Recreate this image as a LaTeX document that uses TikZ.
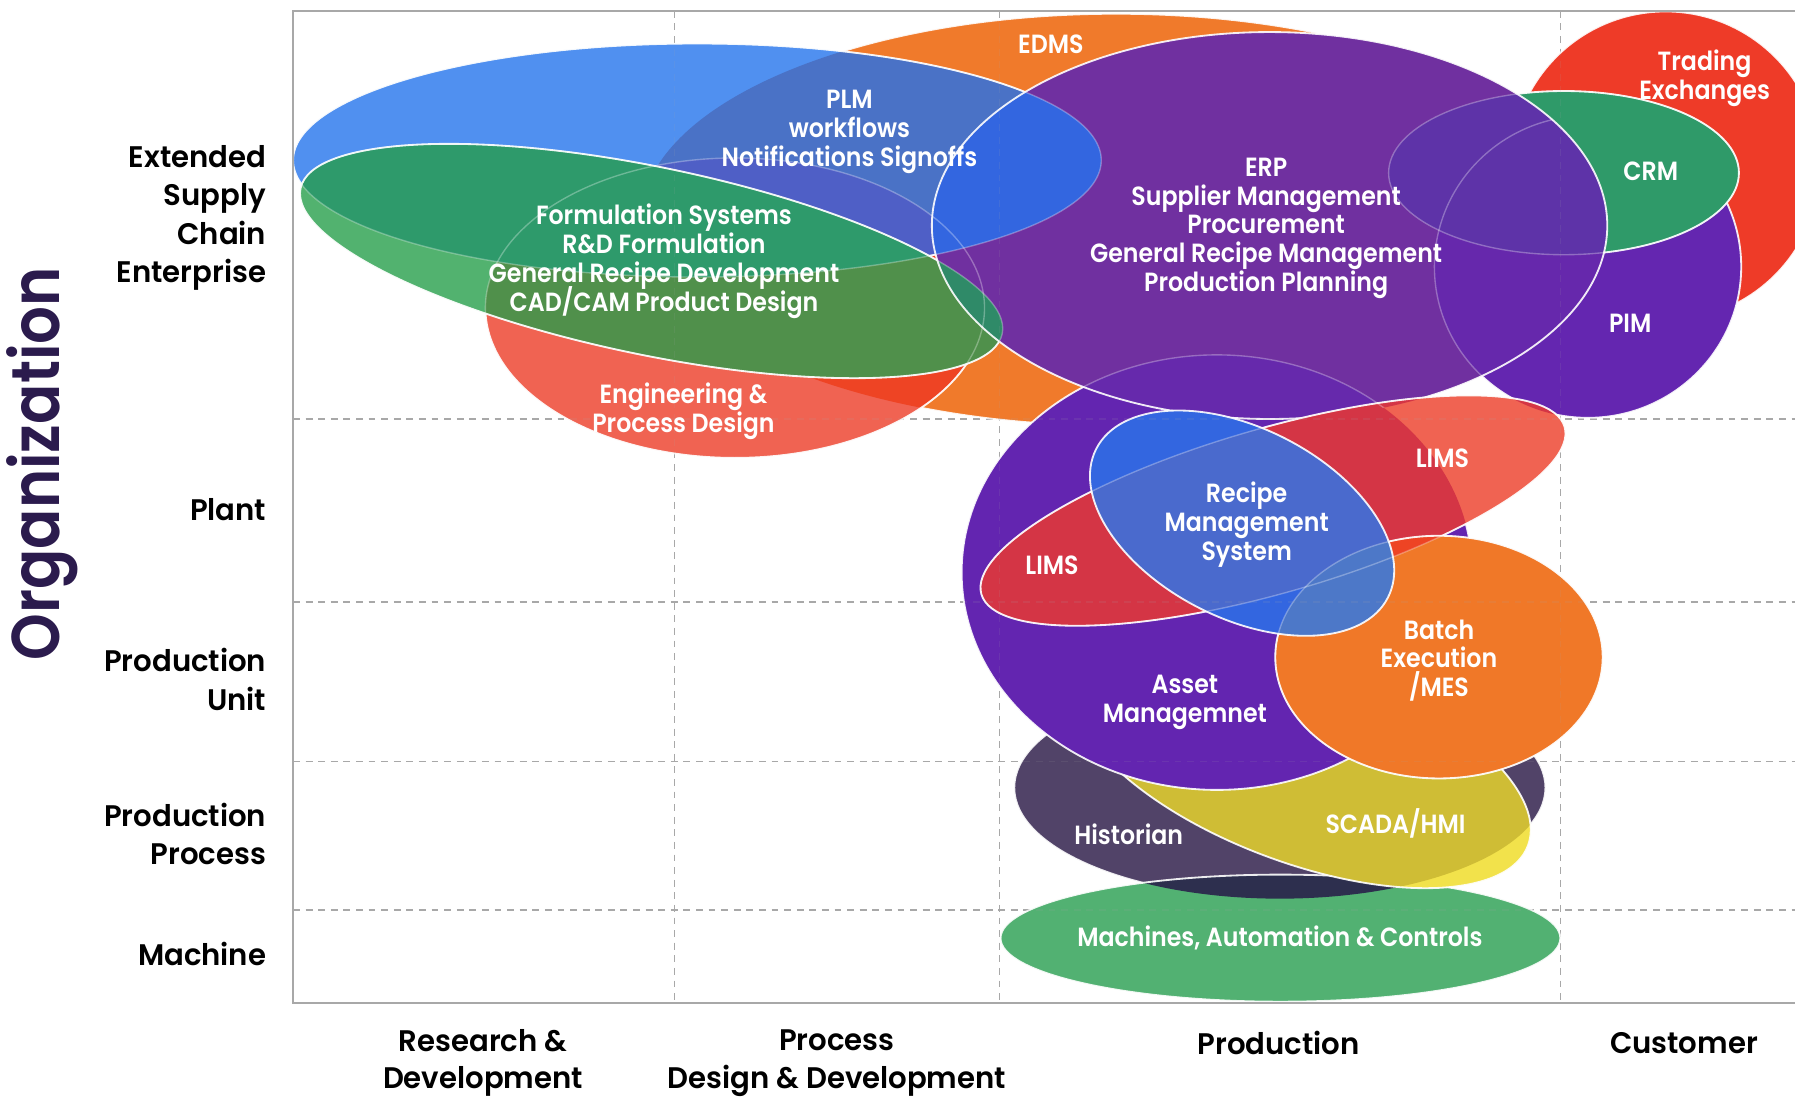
\documentclass[tikz,border=0pt]{standalone}
\usepackage{fontspec}
\setmainfont{Poppins}
\newfontfamily\fInner{Poppins SemiBold}[FakeStretch=0.9]
\newfontfamily\fLab{Poppins SemiBold}[FakeStretch=0.98]
\newfontfamily\fOrg{Poppins SemiBold}[FakeStretch=0.88]
\definecolor{cTrade}{HTML}{EE3B28}
\definecolor{cPIM}{HTML}{6426B0}
\definecolor{cCRM}{HTML}{2F9A69}
\definecolor{cOrange}{HTML}{F07A2B}
\definecolor{cEng}{HTML}{F06352}
\definecolor{cEngOr}{HTML}{EE4424}
\definecolor{cBlue}{HTML}{5090F0}
\definecolor{cBlueOr}{HTML}{4A72C6}
\definecolor{cBlueEng}{HTML}{4F5FC6}
\definecolor{cGreen}{HTML}{52B26F}
\definecolor{cGB}{HTML}{2E9A6B}
\definecolor{cGW}{HTML}{50904B}
\definecolor{cERP}{HTML}{7030A0}
\definecolor{cERPblue}{HTML}{3366E0}
\definecolor{cERPgreen}{HTML}{2F8A68}
\definecolor{cERPcrm}{HTML}{5E33A8}
\definecolor{cERPpim}{HTML}{6628AC}
\definecolor{cERPasset}{HTML}{6629AC}
\definecolor{cHist}{HTML}{514368}
\definecolor{cMach}{HTML}{52B172}
\definecolor{cMachHist}{HTML}{2D2F4E}
\definecolor{cScada}{HTML}{F2E24B}
\definecolor{cScadaHist}{HTML}{CFBD35}
\definecolor{cAsset}{HTML}{6325B0}
\definecolor{cLims}{HTML}{F06352}
\definecolor{cLD}{HTML}{D43545}
\definecolor{cBatch}{HTML}{F07828}
\definecolor{cBatchLims}{HTML}{EE4424}
\definecolor{cRecA}{HTML}{3366E0}
\definecolor{cRecL}{HTML}{4A6ACD}
\definecolor{cRecB}{HTML}{4D78C8}
\definecolor{cOrg}{HTML}{2B1B4D}
\definecolor{cGrid}{HTML}{A8A8A8}
\newcommand\Sedms[1]{\path[#1] (975,-192) ellipse [x radius=415, y radius=180];}
\newcommand\Seng[1]{\path[#1] (642,-269) ellipse [x radius=218, y radius=131];}
\newcommand\Splm[1]{\path[#1] (609,-140) ellipse [x radius=353, y radius=102];}
\newcommand\Sform[1]{\path[#1,rotate around={-11.7:(569,-228)}] (569,-228) ellipse [x radius=313, y radius=82];}
\newcommand\Serp[1]{\path[#1] (1109,-197) ellipse [x radius=295, y radius=169];}
\newcommand\Strade[1]{\path[#1] (1455,-145) circle [radius=135];}
\newcommand\Spim[1]{\path[#1] (1387,-233) ellipse [x radius=134, y radius=132];}
\newcommand\Scrm[1]{\path[#1] (1366,-151) ellipse [x radius=153, y radius=71.5];}
\newcommand\Shist[1]{\path[#1] (1118,-688) ellipse [x radius=232, y radius=97];}
\newcommand\Smach[1]{\path[#1] (1118.5,-819.5) ellipse [x radius=244.5, y radius=55.5];}
\newcommand\Sscada[1]{\path[#1,rotate around={-20.4:(1137,-665)}] (1137,-665) ellipse [x radius=211, y radius=88.5];}
\newcommand\Sasset[1]{\path[#1] (1063,-500) ellipse [x radius=223, y radius=190];}
\newcommand\Slims[1]{\path[#1,rotate around={16:(1112,-446)}] (1112,-446) ellipse [x radius=265, y radius=72];}
\newcommand\Sbatch[1]{\path[#1] (1257,-574) ellipse [x radius=143, y radius=106];}
\newcommand\Srecipe[1]{\path[#1,rotate around={-27:(1085,-457)}] (1085,-457) ellipse [x radius=143, y radius=83];}
\newcommand\Inter[3]{\begin{scope}#1{clip}#2{fill=#3}\end{scope}}
\tikzset{
  wline/.style={draw=white, line width=0.8pt, draw opacity=0.9},
  fline/.style={draw=white, line width=0.6pt, draw opacity=0.3},
  gridline/.style={draw=cGrid, line width=0.6pt, dash pattern=on 3pt off 2.5pt},
  frameline/.style={draw=cGrid, line width=0.8pt},
  wt/.style={text=white, font={\fInner\fontsize{11.5}{12.6}\selectfont\lineskiplimit=-100pt}, align=center, inner sep=0pt},
  lab/.style={text=black, font={\fLab\fontsize{13}{16.8}\selectfont\lineskiplimit=-100pt}, align=right, anchor=east, inner sep=0pt},
  blab/.style={text=black, font={\fLab\fontsize{13}{16.5}\selectfont\lineskiplimit=-100pt}, align=center, inner sep=0pt},
  dn/.style={yshift=-2pt}
}
\newcommand\GridLines[1]{%
  \foreach \gx in {589,873,1363} {\draw[gridline,#1] (\gx,-9.5) -- (\gx,-876);}
  \foreach \gy in {366,526,665,795} {\draw[gridline,#1] (256,-\gy) -- (1568,-\gy);}
}
\begin{document}
\begin{tikzpicture}[x=0.5pt,y=0.5pt]
\useasboundingbox (0,0) rectangle (1568,-959);
\fill[white] (0,0) rectangle (1568,-959);
\begin{scope}
\clip (0,0) rectangle (1568,-959);
\GridLines{}
% customer side
\Strade{fill=cTrade}\Strade{wline}
\Spim{fill=cPIM}\Spim{wline}
\Scrm{fill=cCRM}\Scrm{wline}
% top-left cluster
\Sedms{fill=cOrange}\Sedms{wline}
\Seng{fill=cEng}\Inter\Seng\Sedms{cEngOr}\Seng{wline}
\Splm{fill=cBlue}\Inter\Splm\Sedms{cBlueOr}\Inter\Splm\Seng{cBlueEng}\Splm{wline}
\Sform{fill=cGreen}
\begin{scope}\Sform{clip}\Seng{fill=cGW}\Sedms{fill=cGW}\Splm{fill=cGB}\end{scope}
\Sform{wline}
% bottom cluster
\Shist{fill=cHist}\Shist{wline}
\Smach{fill=cMach}\Inter\Smach\Shist{cMachHist}\Smach{wline}
\Sscada{fill=cScada}\Inter\Sscada\Shist{cScadaHist}\Sscada{wline}
\Sasset{fill=cAsset}\Sasset{wline}
% ERP
\Serp{fill=cERP}
\begin{scope}\Serp{clip}\Spim{fill=cERPpim}\Scrm{fill=cERPcrm}\Sasset{fill=cERPasset}\Sform{fill=cERPgreen}\Splm{fill=cERPblue}\end{scope}
\Serp{wline}
% LIMS, Batch, Recipe
\Slims{fill=cLims}
\begin{scope}\Slims{clip}\Sasset{fill=cLD}\Serp{fill=cLD}\Spim{fill=cLD}\end{scope}
\Slims{wline}
\Sbatch{fill=cBatch}\Inter\Sbatch\Slims{cBatchLims}\Sbatch{wline}
\Srecipe{fill=cRecA}
\begin{scope}\Srecipe{clip}\Slims{fill=cRecL}\Sbatch{fill=cRecB}\end{scope}
\Srecipe{wline}
% faint outlines seen through
\begin{scope}\Serp{clip}\Spim{fline}\Sasset{fline}\end{scope}
\Scrm{fline}\Seng{fline}\Splm{fline}\Sform{fline}
\Slims{fline}\Sbatch{fline}
\GridLines{draw opacity=0.12}
\draw[frameline] (1568,-9.5) -- (256,-9.5) -- (256,-876) -- (1568,-876);
\end{scope}
% texts in shapes
\node[wt] (edms) at (918,-39) {EDMS};
\node[wt,dn] (plm) at (742,-111) {PLM\\workflows\\Notifications Signoffs};
\node[wt,dn] (form) at (580,-224) {Formulation Systems\\R\&D Formulation\\General Recipe Development\\CAD/CAM Product Design};
\node[wt,dn] (eng) at (597,-355) {Engineering \&\\Process Design};
\node[wt,dn] (erp) at (1106,-195.5) {ERP\\Supplier Management\\Procurement\\General Recipe Management\\Production Planning};
\node[wt,dn] (trade) at (1489,-64.5) {Trading\\Exchanges};
\node[wt] (crm) at (1442,-150) {CRM};
\node[wt] (pim) at (1424,-282) {PIM};
\node[wt] (limsr) at (1260,-400) {LIMS};
\node[wt] (limsl) at (919,-494) {LIMS};
\node[wt,dn] (recipe) at (1089,-454) {Recipe\\Management\\System};
\node[wt,dn] (batch) at (1257,-573) {Batch\\Execution\\/MES};
\node[wt,dn] (asset) at (1035,-609.5) {Asset\\Managemnet};
\node[wt] (hist) at (986,-729) {Historian};
\node[wt] (scada) at (1219,-719) {SCADA/HMI};
\node[wt] (mach) at (1118,-819) {Machines, Automation \& Controls};
% row labels
\node[lab,dn] (rEse) at (233,-186.5) {Extended\\Supply\\Chain\\Enterprise};
\node[lab] (rPlant) at (233,-445) {Plant};
\node[lab] (rUnit) at (233,-593.5) {Production\\Unit};
\node[lab] (rProc) at (233,-728.5) {Production\\Process};
\node[lab] (rMach) at (233,-833) {Machine};
% column labels
\node[blab,dn] (cRD) at (422,-924.5) {Research \&\\Development};
\node[blab,dn] (cPDD) at (731,-924.5) {Process\\Design \& Development};
\node[blab] (cProd) at (1117,-911) {Production};
\node[blab] (cCust) at (1471,-911) {Customer};
\node[rotate=90, text=cOrg, font=\fOrg\fontsize{29.5}{31}\selectfont, inner sep=0pt] (org) at (37,-405) {Organization};
\end{tikzpicture}
\end{document}
